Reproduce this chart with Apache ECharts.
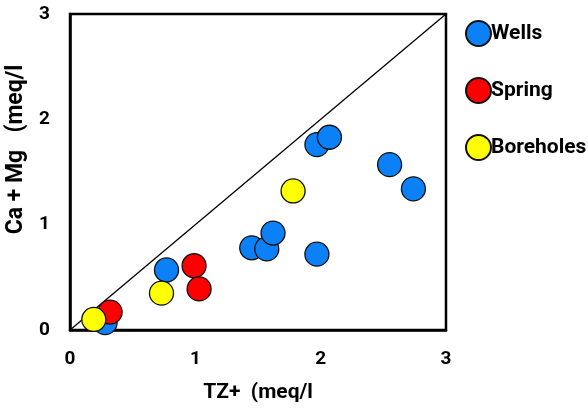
<!DOCTYPE html>
<html>
<head>
<meta charset="utf-8">
<script src="https://cdn.jsdelivr.net/npm/echarts@6/dist/echarts.min.js"></script>
<style>
html,body{margin:0;padding:0;background:#fff;}
#chart{width:588px;height:412px;}
</style>
</head>
<body>
<div id="chart"></div>
<script>
// data: [TZ+, Ca+Mg] in meq/l
var wells = [[0.28,0.07],[0.77,0.57],[1.45,0.78],[1.57,0.77],[1.62,0.92],[1.97,0.72],[1.97,1.76],[2.07,1.83],[2.55,1.57],[2.74,1.34]];
var spring = [[0.32,0.17],[0.99,0.61],[1.03,0.39]];
var boreholes = [[0.19,0.10],[0.73,0.35],[1.78,1.32]];
var oneToOne = [[0,0],[3,3]];
var ticks = [0,1,2,3];

var font = 'Roboto, sans-serif';
var myChart = echarts.init(document.getElementById('chart'));

function dots(name, data, color){
  return {
    name: name,
    type: 'scatter',
    data: data,
    symbolSize: 24,
    itemStyle: {color: color, borderColor: '#111', borderWidth: 1.3, opacity: 1}
  };
}

var option = {
  animation: false,
  grid: {left: 70, right: 142, top: 14, bottom: 82, show: true, borderColor: '#000', borderWidth: 2.5,
         containLabel: false, outerBoundsMode: 'none'},
  legend: {
    orient: 'vertical',
    left: 460,
    top: 15,
    itemGap: 30,
    itemWidth: 25,
    itemHeight: 25,
    data: ['Wells','Spring','Boreholes'],
    textStyle: {fontFamily: font, fontWeight: 'bold', fontSize: 21, color: '#000', padding: [0,0,0,-5]}
  },
  xAxis: {
    type: 'value', min: ticks[0], max: ticks[ticks.length-1], interval: 1,
    name: 'TZ+  (meq/l', nameLocation: 'middle', nameGap: 52,
    nameTextStyle: {fontFamily: font, fontWeight: 'bold', fontSize: 21, color: '#000'},
    axisLine: {show: true, lineStyle: {color: '#000', width: 2.5}},
    axisTick: {show: false},
    splitLine: {show: false},
    axisLabel: {fontFamily: font, fontWeight: 'bold', fontSize: 19, color: '#000', margin: 20}
  },
  yAxis: {
    type: 'value', min: ticks[0], max: ticks[ticks.length-1], interval: 1,
    name: 'Ca + Mg   (meq/l', nameLocation: 'middle', nameGap: 37,
    nameTextStyle: {fontFamily: font, fontWeight: 'bold', fontSize: 23, color: '#000', padding: [0,0,0,45]},
    axisLine: {show: true, lineStyle: {color: '#000', width: 2.5}},
    axisTick: {show: false},
    splitLine: {show: false},
    axisLabel: {fontFamily: font, fontWeight: 'bold', fontSize: 19, color: '#000', margin: 20}
  },
  series: [
    {
      type: 'line', data: oneToOne, symbol: 'none', silent: true,
      lineStyle: {color: '#000', width: 1.3}, z: 1
    },
    dots('Wells', wells, '#0b80f7'),
    dots('Spring', spring, '#ff0000'),
    dots('Boreholes', boreholes, '#ffff00')
  ]
};
myChart.setOption(option);
</script>
</body>
</html>
